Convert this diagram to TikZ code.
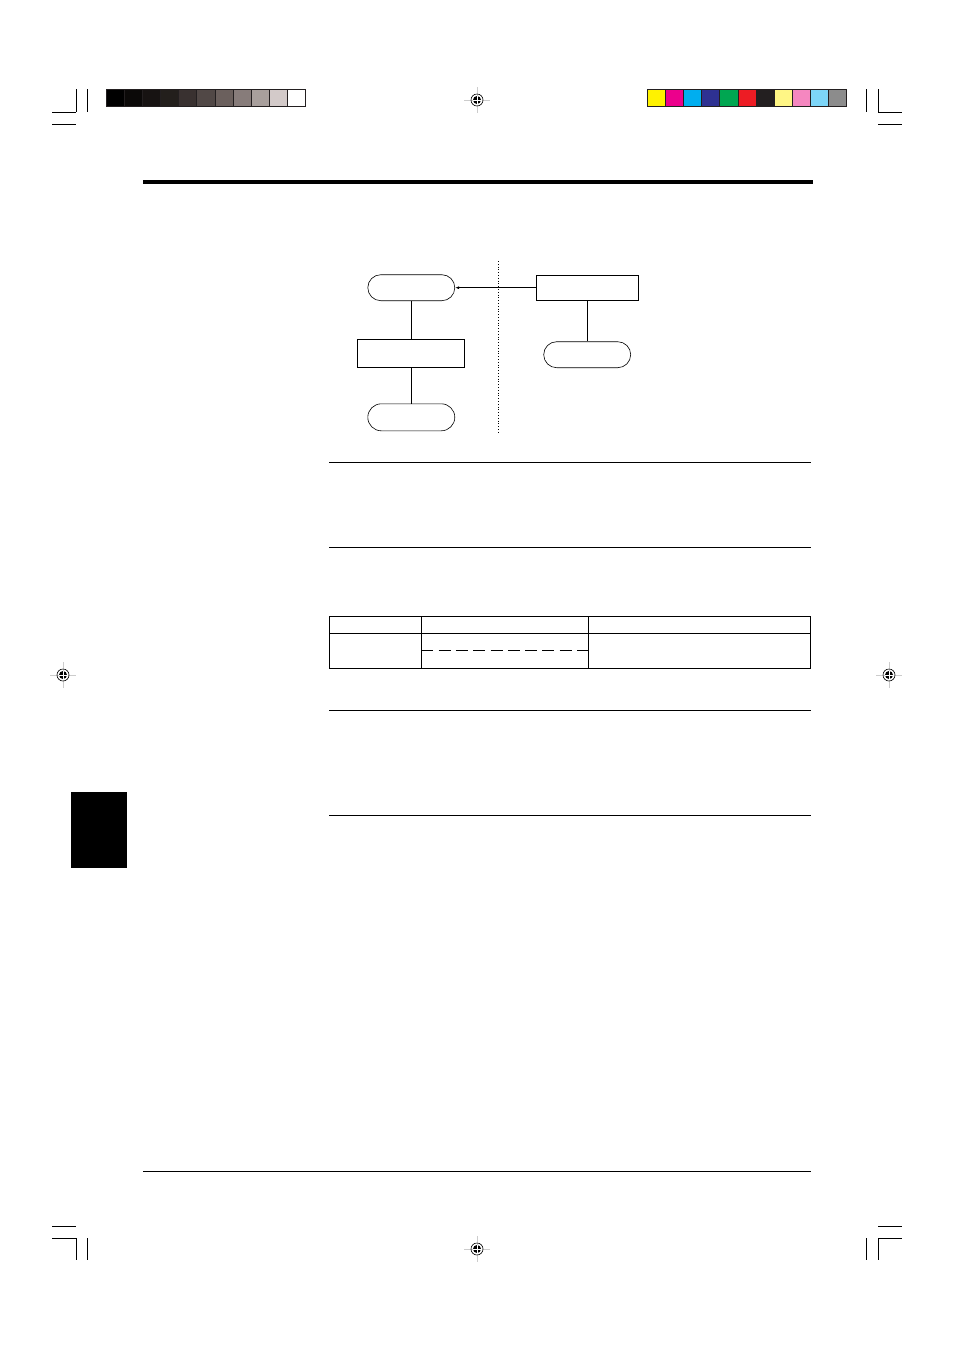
\documentclass[tikz,border=0pt]{standalone}
\usetikzlibrary{arrows.meta,shapes.misc}
\definecolor{gA}{HTML}{000000}
\definecolor{gB}{HTML}{0B0908}
\definecolor{gC}{HTML}{171312}
\definecolor{gD}{HTML}{231F1C}
\definecolor{gE}{HTML}{393130}
\definecolor{gF}{HTML}{514846}
\definecolor{gG}{HTML}{6B605D}
\definecolor{gH}{HTML}{877C7A}
\definecolor{gI}{HTML}{A89F9C}
\definecolor{gJ}{HTML}{D3CAC9}
\definecolor{gK}{HTML}{FFFFFF}
\definecolor{cA}{HTML}{FFF200}
\definecolor{cB}{HTML}{EC008C}
\definecolor{cC}{HTML}{00AEEF}
\definecolor{cD}{HTML}{2E3192}
\definecolor{cE}{HTML}{00A651}
\definecolor{cF}{HTML}{ED1C24}
\definecolor{cG}{HTML}{231F20}
\definecolor{cH}{HTML}{FFF685}
\definecolor{cI}{HTML}{F587C0}
\definecolor{cJ}{HTML}{7DD6F8}
\definecolor{cK}{HTML}{8C8C8C}
\definecolor{frame}{HTML}{231F20}
\tikzset{
  term/.style={draw, rounded rectangle, line width=0.6pt, minimum width=87pt, minimum height=26pt, inner sep=0pt},
  procbox/.style={draw, rectangle, line width=0.8pt, inner sep=0pt},
  conn/.style={line width=0.9pt},
  crop/.style={line width=1pt},
  rule/.style={line width=0.8pt},
  patch/.style={draw=frame, line width=0.8pt},
}
\newcommand{\regmark}[2]{%
  \draw[gray!40, line width=1pt] (#1-13,#2) -- (#1+13,#2);
  \draw[gray!40, line width=1pt] (#1,#2-13) -- (#1,#2+13);
  \draw[line width=0.6pt] (#1,#2) circle (6);
  \fill (#1,#2) circle (4);
  \draw[white, line width=0.9pt] (#1-4.5,#2) -- (#1+4.5,#2);
  \draw[white, line width=0.9pt] (#1,#2-4.5) -- (#1,#2+4.5);
}
\begin{document}
\begin{tikzpicture}[x=1pt,y=-1pt]
\useasboundingbox[fill=white] (0,0) rectangle (954,1350);
% crop marks
\draw[crop] (76.3,89) -- (76.3,112); \draw[crop] (87.5,89) -- (87.5,112);
\draw[crop] (52,112.3) -- (76,112.3); \draw[crop] (52,124) -- (76,124);
\draw[crop] (866.3,89) -- (866.3,112); \draw[crop] (878.3,89) -- (878.3,112);
\draw[crop] (878.3,112.3) -- (902,112.3); \draw[crop] (878,124) -- (902,124);
\draw[crop] (52,1226.3) -- (76,1226.3); \draw[crop] (52,1238.3) -- (76.3,1238.3);
\draw[crop] (76.3,1238.3) -- (76.3,1260); \draw[crop] (87.7,1238) -- (87.7,1260);
\draw[crop] (878.3,1226.3) -- (902,1226.3); \draw[crop] (878.3,1238.3) -- (902,1238.3);
\draw[crop] (878.3,1238.3) -- (878.3,1260); \draw[crop] (866.3,1238) -- (866.3,1260);
% gray bar
\foreach \c [count=\i from 0] in {gA,gB,gC,gD,gE,gF,gG,gH,gI,gJ,gK}
  \filldraw[fill=\c, patch] (106+\i*18.15,89) rectangle (106+\i*18.15+18.15,106.7);
% colour bar
\foreach \c [count=\i from 0] in {cA,cB,cC,cD,cE,cF,cG,cH,cI,cJ,cK}
  \filldraw[fill=\c, patch] (647.3+\i*18.13,89) rectangle (647.3+\i*18.13+18.13,106.7);
% registration marks
\regmark{477}{100}
\regmark{63}{675}
\regmark{889}{675}
\regmark{477}{1249}
% header and footer rules
\fill (142.7,180) rectangle (813,184);
\draw[rule] (143,1171) -- (811,1171);
% side tab
\fill (71,792) rectangle (126.7,867.7);
% flowchart
\draw[dotted, line width=0.8pt] (498.3,261) -- (498.3,433);
\node[term] (t1) at (411.3,287.7) {};
\node[procbox, minimum width=102pt, minimum height=24.5pt] (r1) at (587.2,287.7) {};
\node[procbox, minimum width=107pt, minimum height=28pt] (r2) at (411.3,353.3) {};
\node[term, minimum height=27pt] (t3) at (411.3,417.3) {};
\node[term] (t2) at (587.2,354.7) {};
\draw[conn, -{Latex[length=4pt,width=3pt]}] (r1.west) -- (t1.east);
\draw[conn] (t1.south) -- (r2.north);
\draw[conn] (r2.south) -- (t3.north);
\draw[conn] (r1.south) -- (t2.north);
% horizontal rules
\draw[rule] (329,462) -- (811,462);
\draw[rule] (329,547) -- (811,547);
\draw[rule] (329,710) -- (811,710);
\draw[rule] (329,815) -- (811,815);
% table
\draw[line width=1pt] (329.3,616.7) rectangle (810.3,668.7);
\draw[line width=1pt] (329.3,633.3) -- (810.3,633.3);
\draw[line width=1pt] (421.3,616.7) -- (421.3,668.7);
\draw[line width=1pt] (588.7,616.7) -- (588.7,668.7);
\draw[line width=1pt, dash pattern=on 12pt off 5.3pt] (421.3,650) -- (588.7,650);
\end{tikzpicture}
\end{document}
